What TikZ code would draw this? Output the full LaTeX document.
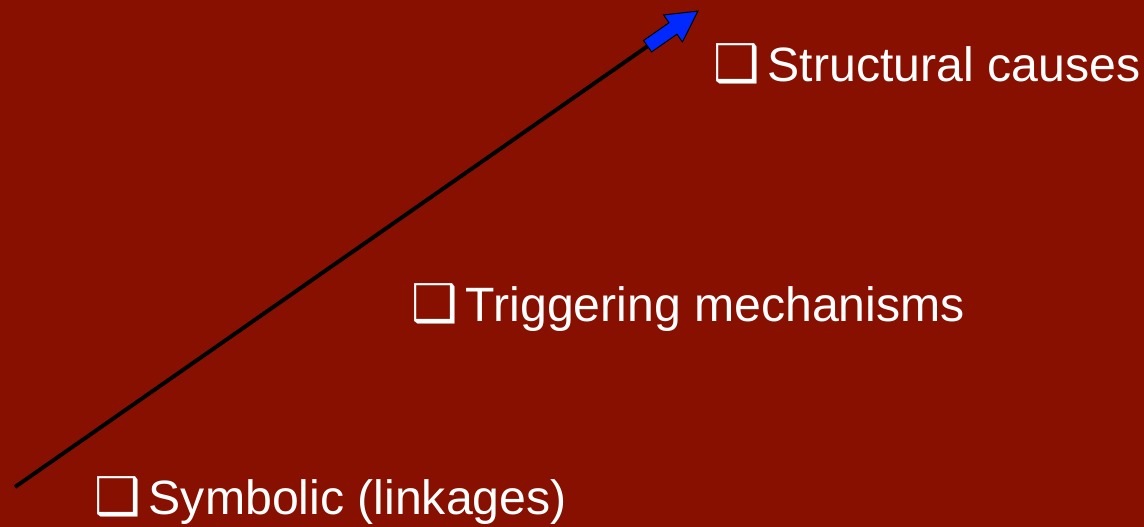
\documentclass[tikz,border=0pt]{standalone}
\usepackage{fontspec}
\setmainfont{Liberation Sans}
\newfontfamily\dingfont{DejaVu Sans}
\definecolor{bgred}{RGB}{136,16,0}
\definecolor{arrowblue}{RGB}{0,40,255}
\newcommand{\boxbullet}{{\dingfont\bfseries\fontsize{52}{58}\selectfont ❑}}
\begin{document}
\begin{tikzpicture}[x=1pt,y=1pt,
  item/.style={anchor=base west, inner sep=0pt, text=white, font=\fontsize{48.2}{58}\selectfont},
  shaft/.style={draw=black, line width=4pt},
  blockhead/.style={fill=arrowblue, draw=black, line width=1pt, line join=miter}]
\fill[bgred] (0,0) rectangle (1144,527);
\useasboundingbox (0,0) rectangle (1144,527);
\coordinate (start) at (15,40);
\coordinate (tip) at (698,516);
\begin{scope}[shift={(start)}, rotate=34.87]
  \coordinate (shaftend) at (772,0);
  \draw[shaft] (0,0) -- (shaftend);
  \path[blockhead] (771,-7) -- (802,-7) -- (802,-16.5) -- (832.5,0) -- (802,16.5) -- (802,7) -- (771,7) -- cycle;
\end{scope}
\node[item] (structural) at (713,445) {\boxbullet\hspace{8pt}Structural causes};
\node[item] (triggering) at (411,205) {\boxbullet\hspace{8pt}Triggering mechanisms};
\node[item] (symbolic) at (94,12) {\boxbullet\hspace{8pt}Symbolic (linkages)};
\end{tikzpicture}
\end{document}
